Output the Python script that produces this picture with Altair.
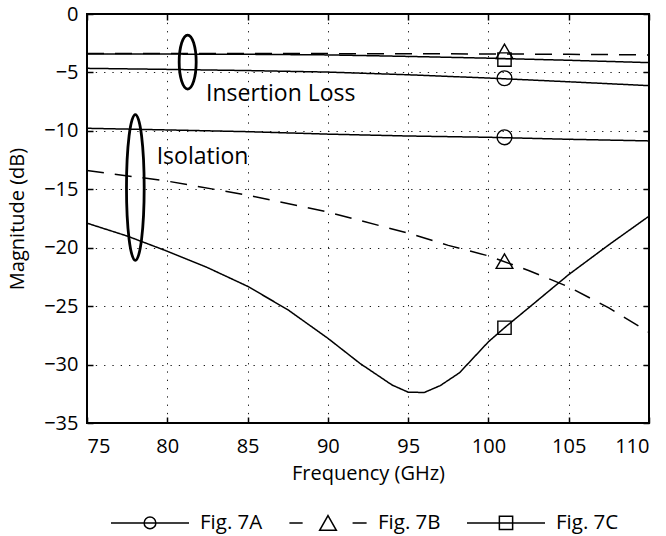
import altair as alt
import pandas as pd

# ---------------- data ----------------
series_names = ["Fig. 7A", "Fig. 7B", "Fig. 7C"]

# Insertion loss curves
il_7a_f = [75, 80, 85, 90, 95, 100, 105, 110]
il_7a_m = [-4.65, -4.74, -4.84, -4.97, -5.2, -5.48, -5.8, -6.13]
il_7b_f = [75, 85, 95, 100, 105, 110]
il_7b_m = [-3.38, -3.38, -3.4, -3.42, -3.45, -3.5]
il_7c_f = [75, 80, 85, 90, 95, 100, 105, 110]
il_7c_m = [-3.42, -3.43, -3.45, -3.5, -3.63, -3.78, -3.96, -4.16]

# Isolation curves
iso_7a_f = [75, 80, 85, 90, 95, 100, 105, 110]
iso_7a_m = [-9.78, -9.92, -10.07, -10.28, -10.44, -10.55, -10.72, -10.86]
iso_7b_f = [75, 80, 85, 90, 95, 97.5, 100, 102.5, 105, 107.5, 110]
iso_7b_m = [-13.4, -14.3, -15.5, -16.95, -18.75, -19.8, -20.7, -21.95, -23.35, -25.15, -27.25]
iso_7c_f = [75, 77.5, 80, 82.5, 85, 87.5, 90, 92, 94, 95, 96, 97, 98.2, 100, 101, 102.5, 105, 107.5, 110]
iso_7c_m = [-17.9, -19.0, -20.3, -21.7, -23.3, -25.3, -27.75, -29.9, -31.75, -32.36, -32.39,
            -31.8, -30.7, -28.05, -26.85, -25.15, -22.3, -19.75, -17.3]

# Markers at 101 GHz (Insertion loss, Isolation) per series
marker_f = [101, 101]
marker_7a = [-5.5, -10.55]
marker_7b = [-3.2, -21.15]
marker_7c = [-3.9, -26.85]

# Annotations
ellipse_x = [81.27, 78.01]
ellipse_y = [-4.11, -14.85]
label_text = ["Insertion Loss", "Isolation"]
label_x = [82.41, 79.34]
label_y = [-7.42, -12.84]

x_ticks = [75, 80, 85, 90, 95, 100, 105, 110]
y_ticks = [-35, -30, -25, -20, -15, -10, -5, 0]

# ---------------- tables ----------------
rows = []
def add(curve, series, style, fs, ms):
    for f, m in zip(fs, ms):
        rows.append({"freq": f, "mag": m, "curve": curve, "series": series, "style": style})

add("IL-7A", "Fig. 7A", "solid", il_7a_f, il_7a_m)
add("IL-7B", "Fig. 7B", "dashed", il_7b_f, il_7b_m)
add("IL-7C", "Fig. 7C", "solid", il_7c_f, il_7c_m)
add("ISO-7A", "Fig. 7A", "solid", iso_7a_f, iso_7a_m)
add("ISO-7B", "Fig. 7B", "dashed", iso_7b_f, iso_7b_m)
add("ISO-7C", "Fig. 7C", "solid", iso_7c_f, iso_7c_m)
df_lines = pd.DataFrame(rows)

df_ma = pd.DataFrame({"freq": marker_f, "mag": marker_7a})
df_mb = pd.DataFrame({"freq": marker_f, "mag": marker_7b})
df_mc = pd.DataFrame({"freq": marker_f, "mag": marker_7c})
df_leg = pd.DataFrame({"freq": [101, 101, 101], "mag": [-5.5, -3.2, -3.9], "series": series_names})
df_e1 = pd.DataFrame({"x": ellipse_x[:1], "y": ellipse_y[:1]})
df_e2 = pd.DataFrame({"x": ellipse_x[1:], "y": ellipse_y[1:]})
df_text = pd.DataFrame({"x": label_x, "y": label_y, "label": label_text})

# ---------------- shapes ----------------
def r(v):
    return f"{v:.4f}"

def ellipse_path(rx, ry):
    k = 0.5523
    return (f"M 0 {r(-ry)} C {r(k*rx)} {r(-ry)} {r(rx)} {r(-k*ry)} {r(rx)} 0 "
            f"C {r(rx)} {r(k*ry)} {r(k*rx)} {r(ry)} 0 {r(ry)} "
            f"C {r(-k*rx)} {r(ry)} {r(-rx)} {r(k*ry)} {r(-rx)} 0 "
            f"C {r(-rx)} {r(-k*ry)} {r(-k*rx)} {r(-ry)} 0 {r(-ry)} Z")

e1_path = ellipse_path(0.315, 1.0)
e2_path = ellipse_path(0.1215, 1.0)

leg_a = "M -1 0 L 1 0 " + ellipse_path(0.15, 0.15)
leg_b = "M -0.99 0 L -0.65 0 M 0.63 0 L 0.99 0 M 0 -0.19 L 0.214 0.19 L -0.214 0.19 Z"
leg_c = "M -1 0 L 1 0 M -0.17 -0.17 L 0.17 -0.17 L 0.17 0.17 L -0.17 0.17 Z"

# ---------------- scales / axes ----------------
XS = alt.Scale(domain=[75, 110], nice=False, zero=False)
YS = alt.Scale(domain=[-35, 0], nice=False, zero=False)

FONT = "Open Sans"

main_x_axis = alt.Axis(orient="bottom", values=x_ticks, grid=True, gridColor="black",
                       gridDash=[1.3, 7], gridWidth=1, gridOpacity=0.9, ticks=False, tickSize=0,
                       domain=False, labelPadding=29, labelBaseline="alphabetic",
                       labelFontSize=20, title="Frequency (GHz)", titleFontSize=20,
                       titleX=281, titleY=56, titleBaseline="alphabetic")
main_y_axis = alt.Axis(orient="left", values=y_ticks, grid=True, gridColor="black",
                       gridDash=[1.3, 7], gridWidth=1, gridOpacity=0.9, ticks=False, tickSize=0,
                       domain=False, labelPadding=9, labelFontSize=20,
                       title="Magnitude (dB)", titleFontSize=20, titleX=-60, titleY=204.5)

def tick_axis(orient, vals):
    return alt.Axis(orient=orient, values=vals, offset=-6, ticks=True, tickSize=6,
                    tickWidth=1.5, tickColor="black", labels=False, grid=False,
                    domain=False, title="")

# ---------------- layers ----------------
lines = alt.Chart(df_lines).mark_line(color="black", strokeWidth=1.5).encode(
    x=alt.X("freq:Q", scale=XS, axis=main_x_axis),
    y=alt.Y("mag:Q", scale=YS, axis=main_y_axis),
    strokeDash=alt.StrokeDash("style:N", scale=alt.Scale(domain=["solid", "dashed"],
                                                        range=[[1, 0], [17, 11]]), legend=None),
    detail="curve:N",
)

mark_a = alt.Chart(df_ma).mark_point(shape="circle", size=219, filled=False, color="black",
                                     strokeWidth=1.4, opacity=1).encode(
    x=alt.X("freq:Q", scale=XS, axis=tick_axis("bottom", x_ticks)),
    y=alt.Y("mag:Q", scale=YS, axis=tick_axis("left", y_ticks)),
)
mark_b = alt.Chart(df_mb).mark_point(shape="triangle-up", size=279, filled=False, color="black",
                                     strokeWidth=1.4, opacity=1).encode(
    x=alt.X("freq:Q", scale=XS, axis=None),
    y=alt.Y("mag:Q", scale=YS, axis=None),
)
mark_c = alt.Chart(df_mc).mark_point(shape="square", size=177, filled=False, color="black",
                                     strokeWidth=1.4, opacity=1).encode(
    x=alt.X("freq:Q", scale=XS, axis=None),
    y=alt.Y("mag:Q", scale=YS, axis=None),
)

ell1 = alt.Chart(df_e1).mark_point(shape=e1_path, size=2916, filled=False, color="black",
                                   strokeWidth=2.8, opacity=1).encode(
    x=alt.X("x:Q", scale=XS, axis=tick_axis("top", x_ticks)),
    y=alt.Y("y:Q", scale=YS, axis=tick_axis("right", y_ticks)),
)
ell2 = alt.Chart(df_e2).mark_point(shape=e2_path, size=21228, filled=False, color="black",
                                   strokeWidth=2.8, opacity=1).encode(
    x=alt.X("x:Q", scale=XS, axis=None),
    y=alt.Y("y:Q", scale=YS, axis=None),
)

texts = alt.Chart(df_text).mark_text(align="left", baseline="alphabetic", font=FONT,
                                     fontSize=23, color="black").encode(
    x=alt.X("x:Q", scale=XS, axis=None),
    y=alt.Y("y:Q", scale=YS, axis=None),
    text="label:N",
)

legend_layer = alt.Chart(df_leg).mark_point(filled=False, color="black").encode(
    x=alt.X("freq:Q", scale=XS, axis=None),
    y=alt.Y("mag:Q", scale=YS, axis=None),
    shape=alt.Shape("series:N",
                    scale=alt.Scale(domain=series_names, range=[leg_a, leg_b, leg_c]),
                    legend=alt.Legend(orient="none", legendX=23, legendY=468.7,
                                      direction="horizontal", columns=3, title=None,
                                      padding=0, symbolSize=6084, symbolStrokeColor="black",
                                      symbolFillColor="transparent", symbolStrokeWidth=1.5,
                                      symbolOpacity=1, labelFont=FONT, labelFontSize=20.5,
                                      labelColor="black", labelOffset=10, columnPadding=23)),
).transform_filter("datum.freq < 0")

chart = alt.layer(lines, mark_a, mark_b, mark_c, ell1, ell2, texts, legend_layer).resolve_axis(
    x="independent", y="independent"
).properties(
    width=562, height=409,
    autosize=alt.AutoSizeParams(type="none"),
    padding={"left": 87, "top": 14, "right": 17, "bottom": 113},
    background="white",
).configure_view(
    stroke="black", strokeWidth=2
).configure_axis(
    labelFont=FONT, titleFont=FONT, labelColor="black", titleColor="black",
    titleFontWeight="normal"
)

chart.save("out.html", embed_options={"renderer": "svg", "actions": False})
